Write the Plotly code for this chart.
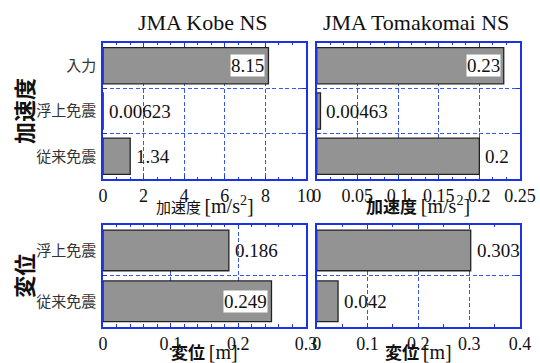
import plotly.graph_objects as go
from plotly.subplots import make_subplots

# ---- data ----
acc_categories = ["入力", "浮上免震", "従来免震"]
disp_categories = ["浮上免震", "従来免震"]
kobe_acc = [8.15, 0.00623, 1.34]
tomakomai_acc = [0.23, 0.00463, 0.2]
kobe_disp = [0.186, 0.249]
tomakomai_disp = [0.303, 0.042]
col_titles = ["JMA Kobe NS", "JMA Tomakomai NS"]

SERIF = "Liberation Serif"
CJK = "Noto Sans CJK JP"
BLUE = "#1a33e6"
GRID = "#3a55f0"
BAR = "#939393"

fig = make_subplots(rows=2, cols=2)

panels = [
    # (row, col, cats, vals, range, dtick, minor)
    (1, 1, acc_categories, kobe_acc, [0, 10], 2, 2 / 3),
    (1, 2, acc_categories, tomakomai_acc, [0, 0.25], 0.05, 0.05 / 3),
    (2, 1, disp_categories, kobe_disp, [0, 0.3], 0.1, 0.02),
    (2, 2, disp_categories, tomakomai_disp, [0, 0.4], 0.1, 0.05),
]

xdom = {1: [103 / 540, 306 / 540], 2: [316.7 / 540, 520 / 540]}
ydom = {1: [1 - 179 / 363, 1 - 43 / 363], 2: [1 - 326.7 / 363, 1 - 225 / 363]}

ann = []
for i, (r, c, cats, vals, rng, dt, mn) in enumerate(panels):
    fig.add_trace(
        go.Bar(
            x=vals, y=cats, orientation="h",
            marker=dict(color=BAR, line=dict(color="#222222", width=1.3)),
            width=0.8, showlegend=False, hoverinfo="skip",
        ),
        row=r, col=c,
    )
    ax = "" if i == 0 else str(i + 1)
    fig.update_xaxes(
        range=rng, tick0=0, dtick=dt, domain=xdom[c], automargin=False,
        showline=True, linecolor=BLUE, linewidth=1.5, mirror="allticks",
        ticks="inside", ticklen=4, tickcolor=BLUE, tickwidth=1,
        showgrid=True, gridcolor=GRID, griddash="4px,2.5px", gridwidth=1,
        zeroline=False,
        minor=dict(dtick=mn, tick0=0, ticks="inside", ticklen=2.5, tickcolor=BLUE, showgrid=False),
        tickfont=dict(family=SERIF, size=18, color="#111"),
        row=r, col=c,
    )
    fig.update_yaxes(
        type="category", categoryorder="array", categoryarray=cats,
        autorange="reversed", domain=ydom[r], tickson="boundaries", automargin=False,
        showline=True, linecolor=BLUE, linewidth=1.5, mirror="allticks",
        ticks="inside", ticklen=4, tickcolor=BLUE,
        showgrid=True, gridcolor=GRID, griddash="4px,2.5px", gridwidth=1,
        showticklabels=(c == 1), ticklabelstandoff=2,
        tickfont=dict(family=CJK, size=15, color="#333"),
        row=r, col=c,
    )
    xref = "x" + ax
    yref = "y" + ax
    for cat, v in zip(cats, vals):
        inside = v / rng[1] > 0.8
        ann.append(dict(
            x=v, y=cat, xref=xref, yref=yref, text=f"{v:g}",
            showarrow=False, xanchor="right" if inside else "left",
            xshift=-3 if inside else 5, bgcolor="white" if inside else None,
            borderpad=0,
            font=dict(family=SERIF, size=19, color="#111"),
        ))

# column titles
for c, t in zip([1, 2], col_titles):
    ann.append(dict(
        x=sum(xdom[c]) / 2 - 2 / 540, y=1 - 23 / 363, xref="paper", yref="paper",
        xanchor="center", yanchor="middle",
        text=t, showarrow=False, font=dict(family=SERIF, size=22, color="#111"),
    ))

# x-axis titles
SP = '<span style="font-family:Liberation Serif;font-size:20px">'
xt = [
    (1, 1 - 205 / 363, '加速度 ' + SP + '[m/s<sup>2</sup>]</span>', 15),
    (2, 1 - 205 / 363, '<b>加速度</b> ' + SP + '[m/s<sup>2</sup>]</span>', 17),
    (1, 1 - 351 / 363, '<b>変位</b> ' + SP + '[m]</span>', 17),
    (2, 1 - 351 / 363, '<b>変位</b> ' + SP + '[m]</span>', 17),
]
for c, y, t, s in xt:
    ann.append(dict(
        x=sum(xdom[c]) / 2, y=y, xref="paper", yref="paper", text=t,
        xanchor="center", yanchor="middle", borderpad=0,
        showarrow=False, font=dict(family=CJK, size=s, color="#111"),
    ))

# y-axis (row) titles
for r, t in [(1, "<b>加速度</b>"), (2, "<b>変位</b>")]:
    ann.append(dict(
        x=23 / 540, y=sum(ydom[r]) / 2, xref="paper", yref="paper", text=t,
        xanchor="center", yanchor="middle",
        textangle=-90, showarrow=False, font=dict(family=CJK, size=22, color="#111"),
    ))

fig.update_layout(
    width=540, height=363, margin=dict(l=0, r=0, t=0, b=0),
    paper_bgcolor="white", plot_bgcolor="white",
    bargap=0.2, annotations=ann,
)

fig.write_html(
    "out.html",
    config={"displayModeBar": False},
    post_script="document.body.style.margin='0px';",
)
